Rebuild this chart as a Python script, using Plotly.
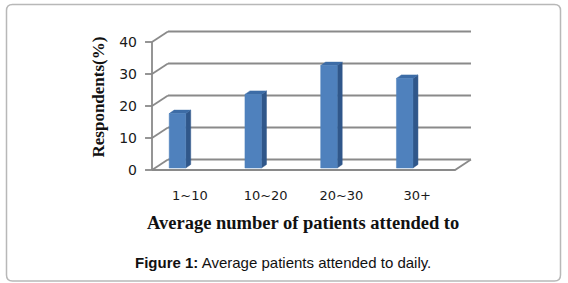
import plotly.graph_objects as go

# ---- data ----
categories = ["1~10", "10~20", "20~30", "30+"]
respondents = [17, 23, 32, 28]
y_ticks = [0, 10, 20, 30, 40]

# ---- layout geometry (pixels) ----
W, H = 568, 283
L, R, T, B = 142, 478, 24, 176

# data-space 3D parameters
x_lo, x_hi = -0.5, len(categories) - 0.5
dxu, dyu = 0.211, 3.28          # depth of the back wall
bar_shift, bar_w = -0.164, 0.218
bar_base = 0.625
ddx, ddy = 0.066, 1.09          # bar depth
tick_len = 0.092

GRID = "#8a8a8a"
FRONT, SIDE, TOP = "#4f81bd", "#30578a", "#3d6ca6"


def px_x(px):
    return (px - L) / (R - L)


def px_y(py):
    return (B - py) / (B - T)


fig = go.Figure()

# back wall gridlines + side diagonals + tick marks
gx, gy = [], []
for v in y_ticks:
    gx += [x_lo + dxu, x_hi + dxu, None]
    gy += [v + dyu, v + dyu, None]
    gx += [x_lo, x_lo + dxu, None]
    gy += [v, v + dyu, None]
    gx += [x_lo - tick_len, x_lo, None]
    gy += [v, v, None]
# front axis line
gx += [x_lo, x_lo, None]
gy += [y_ticks[0], y_ticks[-1], None]
# floor front edge and right edge
gx += [x_lo, x_hi, x_hi + dxu, None]
gy += [0, 0, dyu, None]
fig.add_trace(go.Scatter(x=gx, y=gy, mode="lines",
                         line=dict(color=GRID, width=1.8),
                         hoverinfo="skip", showlegend=False))

# bars
for i, v in enumerate(respondents):
    c = i + bar_shift
    x0, x1 = c - bar_w / 2, c + bar_w / 2
    y0, y1 = bar_base, bar_base + v
    # side
    fig.add_trace(go.Scatter(
        x=[x1, x1, x1 + ddx, x1 + ddx, x1],
        y=[y0, y1, y1 + ddy, y0 + ddy, y0],
        fill="toself", fillcolor=SIDE, mode="lines",
        line=dict(color=SIDE, width=0.5), hoverinfo="skip", showlegend=False))
    # top
    fig.add_trace(go.Scatter(
        x=[x0, x1, x1 + ddx, x0 + ddx, x0],
        y=[y1, y1, y1 + ddy, y1 + ddy, y1],
        fill="toself", fillcolor=TOP, mode="lines",
        line=dict(color=TOP, width=0.5), hoverinfo="skip", showlegend=False))
    # front
    fig.add_trace(go.Scatter(
        x=[x0, x1, x1, x0, x0],
        y=[y0, y0, y1, y1, y0],
        fill="toself", fillcolor=FRONT, mode="lines",
        line=dict(color=FRONT, width=0.5), hoverinfo="text",
        text=f"{categories[i]}: {v}%", showlegend=False))

# rounded frame around the figure
fx0, fy0, fx1, fy1, r = 6.5, 4.5, 560.5, 281, 6
def P(px, py):
    return f"{px_x(px):.5f},{px_y(py):.5f}"
path = (f"M {P(fx0 + r, fy0)} L {P(fx1 - r, fy0)} Q {P(fx1, fy0)} {P(fx1, fy0 + r)} "
        f"L {P(fx1, fy1 - r)} Q {P(fx1, fy1)} {P(fx1 - r, fy1)} "
        f"L {P(fx0 + r, fy1)} Q {P(fx0, fy1)} {P(fx0, fy1 - r)} "
        f"L {P(fx0, fy0 + r)} Q {P(fx0, fy0)} {P(fx0 + r, fy0)} Z")

fig.update_layout(
    width=W, height=H,
    margin=dict(l=L, r=W - R, t=T, b=H - B, pad=0),
    paper_bgcolor="white", plot_bgcolor="white",
    showlegend=False, hovermode="closest",
    xaxis=dict(range=[x_lo - 10 / 75.75, x_hi + 23 / 75.75],
               tickvals=list(range(len(categories))), ticktext=categories,
               showgrid=False, zeroline=False, showline=False, ticks="",
               ticklabelstandoff=10,
               tickfont=dict(family="DejaVu Sans", size=13, color="#1a1a1a"),
               fixedrange=True),
    yaxis=dict(range=[-6 / 3.2, 146 / 3.2],
               tickvals=y_ticks, ticktext=[str(v) for v in y_ticks],
               showgrid=False, zeroline=False, showline=False, ticks="",
               ticklabelstandoff=4,
               tickfont=dict(family="DejaVu Sans", size=14, color="#1a1a1a"),
               fixedrange=True),
    shapes=[dict(type="path", xref="paper", yref="paper", path=path,
                 line=dict(color="#b8b8b8", width=1.5), layer="below")],
    annotations=[
        dict(text="Respondents(%)", xref="paper", yref="paper",
             x=px_x(98), y=px_y(97.5), textangle=-90, showarrow=False,
             xanchor="center", yanchor="middle",
             font=dict(family="Liberation Serif", size=17, color="#111111",
                       weight="bold")),
        dict(text="Average number of patients attended to", xref="paper",
             yref="paper", x=px_x(303), y=px_y(223), showarrow=False,
             xanchor="center", yanchor="middle",
             font=dict(family="Liberation Serif", size=18.5, color="#111111",
                       weight="bold")),
        dict(text="<b>Figure 1:</b> Average patients attended to daily.",
             xref="paper", yref="paper", x=px_x(282.5), y=px_y(262),
             showarrow=False, xanchor="center", yanchor="middle",
             font=dict(family="Liberation Sans", size=15, color="#111111")),
    ],
)

fig.write_html("out.html", config={"displayModeBar": False},
               post_script="document.body.style.margin='0';document.body.style.overflow='hidden';")
